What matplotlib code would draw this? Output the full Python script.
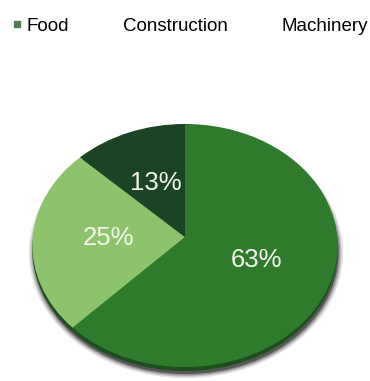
import numpy as np
import matplotlib
matplotlib.use('Agg')
import matplotlib.pyplot as plt
from matplotlib.lines import Line2D
from matplotlib.patches import Circle
from matplotlib.transforms import Transform, Affine2D

plt.rcParams['font.family'] = ['Liberation Sans', 'DejaVu Sans']

# data
categories = ['Food', 'Construction', 'Machinery']
shares = [63, 25, 13]
slice_colors = ['#2f7a2d', '#8cc46e', '#1b4424']
legend_marker_colors = ['#4d7d4d', 'none', 'none']


# tilt the pie a bit, like the 3D look of the original
class Tilt(Transform):
    input_dims = 2
    output_dims = 2
    is_separable = False
    has_inverse = False

    def __init__(self, k):
        super().__init__()
        self.k = k

    def transform_non_affine(self, values):
        xy = np.asarray(values, dtype=float).reshape(-1, 2)
        w = 1 + self.k * xy[:, 1]
        return np.column_stack([xy[:, 0] / w, xy[:, 1] / w])


fig = plt.figure(figsize=(3.70, 3.81), dpi=100)
ax = fig.add_axes([0, 0, 1, 1])
ax.axis('off')

tilt = Tilt(0.07)

wedges, texts = ax.pie(shares, colors=slice_colors, startangle=90, counterclock=False,
                       labels=[f'{v}%' for v in shares], labeldistance=0.5,
                       wedgeprops=dict(linewidth=0),
                       textprops=dict(color='#f2f6ea', fontsize=18.5, ha='center', va='center'))
ax.set_aspect('auto')
ax.set_xlim(-1.2155, 1.2155)
ax.set_ylim(-1.191, 1.960)

for w in wedges:
    w.set_transform(tilt + ax.transData)
    w.set_zorder(3)
for t in texts:
    t.set_position(tilt.transform(np.array([t.get_position()]))[0])
    t.set_zorder(4)

# soft shadow and rim under the pie
for s, a in [(1.03, 0.10), (1.02, 0.15), (1.01, 0.25), (1.0, 0.4)]:
    sh = Circle((0, 0), s, color='black', alpha=a, lw=0, zorder=1)
    sh.set_transform(tilt + ax.transData + Affine2D().translate(1, -7))
    ax.add_patch(sh)
rim = Circle((0, 0), 1, color='#1c4f1c', lw=0, zorder=2)
rim.set_transform(tilt + ax.transData + Affine2D().translate(0, -4))
ax.add_patch(rim)

handles = [Line2D([], [], linestyle='none', marker='s', markersize=5,
                  markerfacecolor=c, markeredgecolor=c) for c in legend_marker_colors]
fig.legend(handles, categories, loc='center left', bbox_to_anchor=(12 / 370, 1 - 26 / 381),
           ncol=3, frameon=False, fontsize=13.5, handlelength=0.5, handletextpad=0.3,
           columnspacing=2.05, borderpad=0, borderaxespad=0)

plt.savefig('out.png', dpi=100)
